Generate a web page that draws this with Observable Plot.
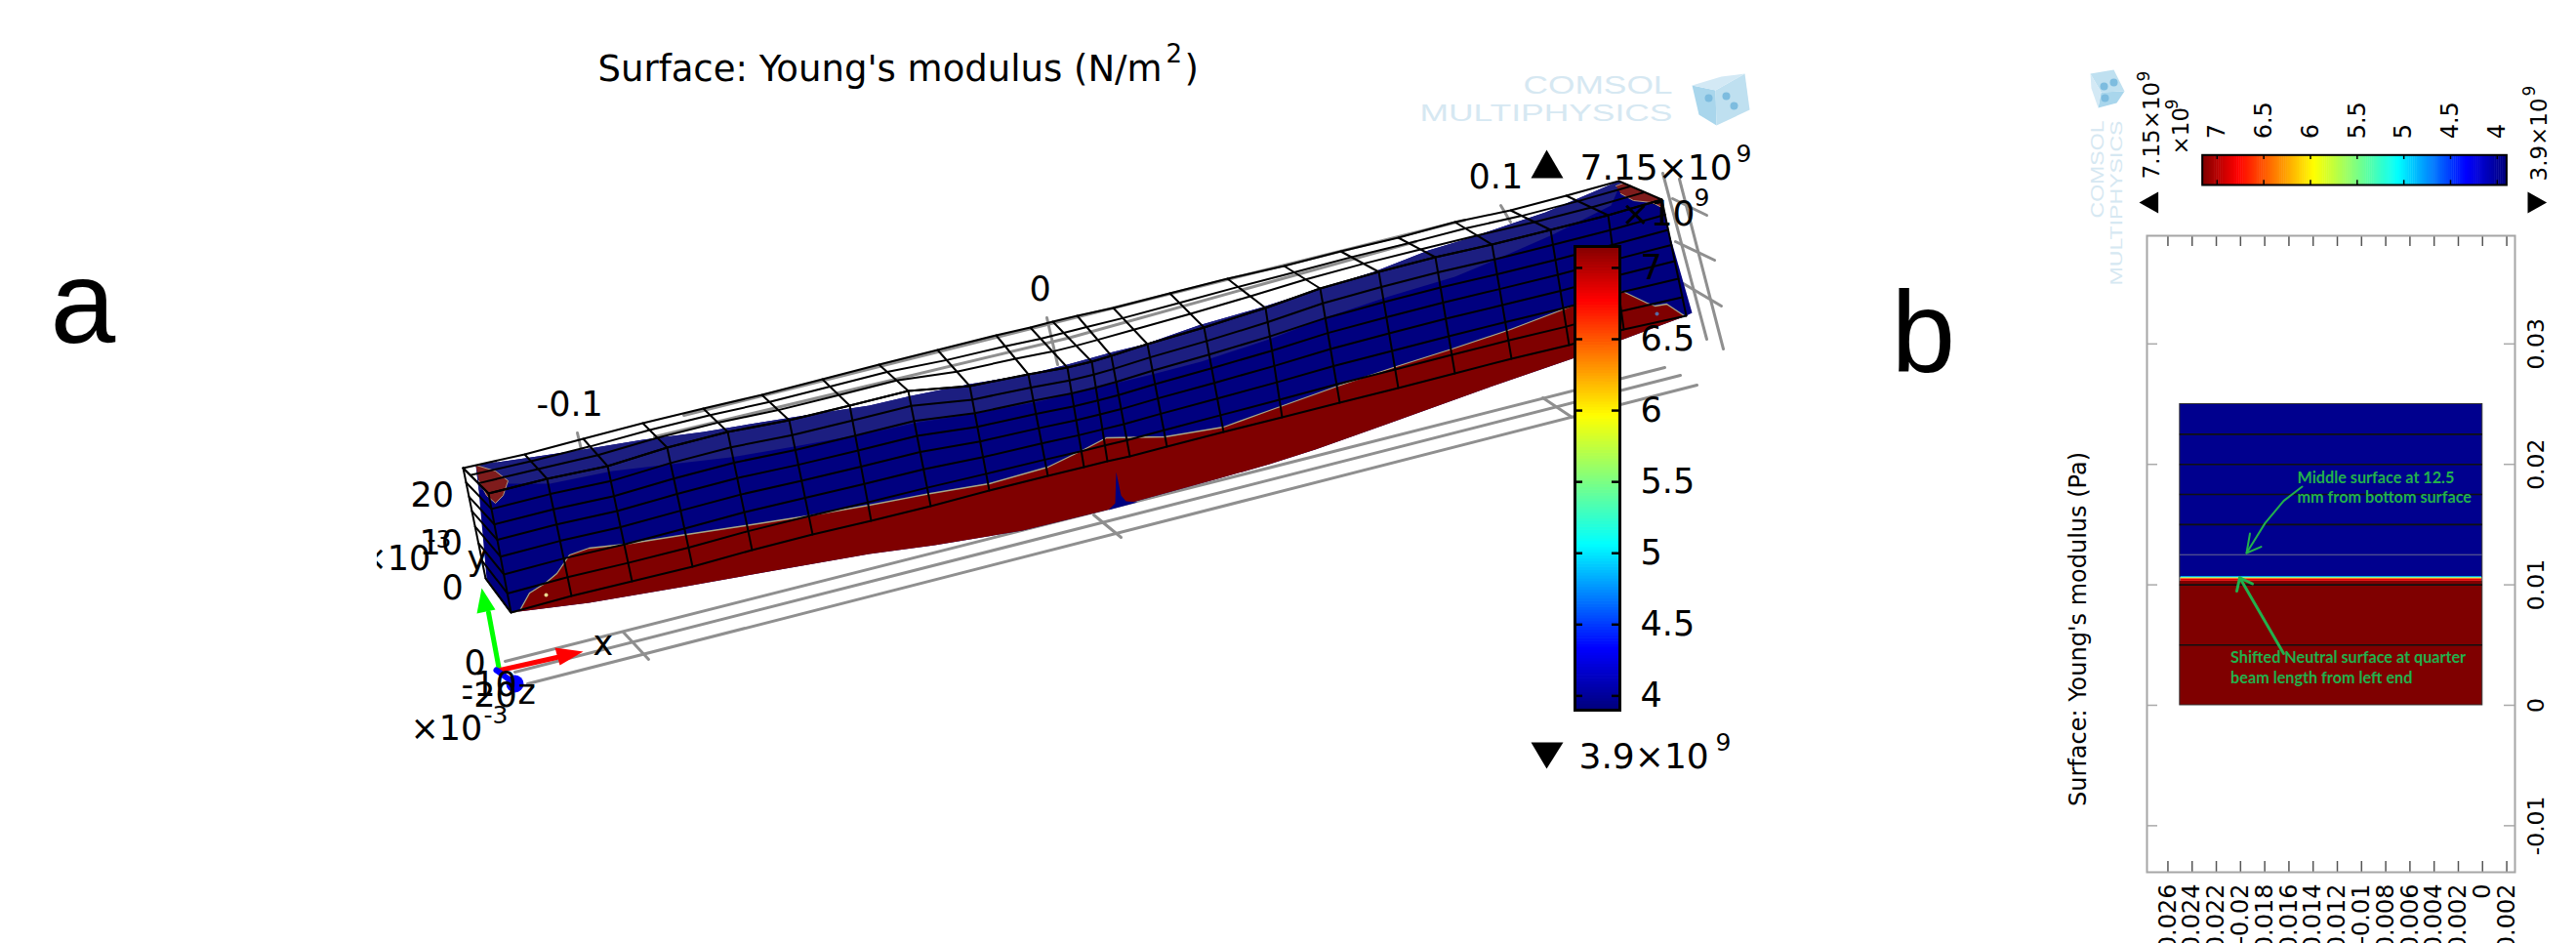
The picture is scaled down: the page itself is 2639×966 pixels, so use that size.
<!DOCTYPE html>
<html><head><meta charset="utf-8">
<script src="https://cdn.jsdelivr.net/npm/d3@7"></script>
<script src="https://cdn.jsdelivr.net/npm/@observablehq/plot@0.6"></script>
<style>
html,body{margin:0;padding:0;background:#fff;}
#stage{position:relative;width:2639px;height:966px;overflow:hidden;background:#fff;}
#stage svg{position:absolute;left:0;top:0;max-width:none;background:transparent;}
</style></head><body><div id="stage"></div>
<script>
const FONT = "DejaVu Sans";
const W = 2639, H = 966;

// ---- colour map (Young's modulus, GPa -> colour)
const modulusStops = [3.9, 4.32, 5.05, 5.95, 6.76, 7.15];
const modulusColours = ["#00007f", "#0000ff", "#00ffff", "#ffff00", "#ff0000", "#7f0000"];
const colourTicks = [7, 6.5, 6, 5.5, 5, 4.5, 4];
const colourTickLabels = ["7", "6.5", "6", "5.5", "5", "4.5", "4"];
const rampValues = d3.range(3.9, 7.15, 0.02);

// ---- panel a: outlines
const beamTopEdge = [[487,476],[537,469],[597,460],[658,450],[720,442],[780,432],[837,423],[890,415],[933,405],[993,393],[1053,383],[1093,373],[1140,360],[1173,352],[1227,333],[1290,315],[1353,295],[1407,278],[1463,256],[1503,244],[1550,228],[1583,217],[1658,185]];
const beamRightEnd = [[1702,204],[1708,233],[1733,320],[1727,323]];
const beamBottomEdge = [[1727,323],[1660,348],[1610,367],[1523,397],[1423,433],[1347,460],[1300,475],[1247,490],[1163,513],[1133,522],[1047,543],[957,558],[890,567],[787,585],[703,600],[603,617],[523,627]];
const beamLeftEdge = [[523,627],[498,592],[490,502],[487,476]];
const neutralEdge = [[526,627],[532,625],[542,607],[558,597],[570,587],[583,568],[603,561],[640,557],[703,547],[763,538],[827,528],[890,517],[953,505],[1013,495],[1073,478],[1110,460],[1133,448],[1193,447],[1253,437],[1300,420],[1370,395],[1430,375],[1487,357],[1547,337],[1610,313],[1662,298],[1687,310],[1695,313],[1707,311],[1725,323]];
const topFaceLower = [[490,502],[520,495],[563,495],[627,482],[687,475],[748,468],[813,457],[890,443],[940,432],[1000,423],[1067,410],[1130,395],[1180,383],[1230,370],[1300,347],[1357,325],[1423,303],[1490,283],[1533,265],[1590,240],[1650,210],[1660,187]];
const capLeft = [[487,476],[507,482],[520,492],[515,507],[507,515],[498,507],[490,492]];
const capRight = [[1655,190],[1663,187],[1700,203],[1704,213],[1692,207],[1673,205],[1660,198]];
const spike = [[1143,483],[1148,507],[1153,513],[1165,514],[1135,522],[1142,515]];
const specks = [[559,609,"#e8d890"],[1697,321,"#5a6aa0"]];

// mesh stations: back-top, front-top, front-bottom corner of each cross-section
const stationsBack = [[474,479],[537,465],[597,449],[658,433],[720,418],[780,404],[842,388],[900,373],[960,358],[1020,343],[1055,335],[1078,329],[1103,323],[1140,315],[1198,300],[1257,285],[1315,272],[1373,257],[1432,243],[1490,227],[1547,215],[1604,200],[1658,185]];
const stationsFront = [[500,505],[560,490],[622,477],[683,458],[745,442],[808,430],[870,415],[930,400],[993,395],[1053,383],[1093,376],[1118,370],[1138,364],[1175,352],[1233,335],[1296,315],[1352,295],[1412,278],[1470,263],[1528,250],[1588,235],[1647,220],[1702,204]];
const stationsBottom = [[523,627],[585,610],[647,595],[709,580],[770,563],[832,547],[892,533],[953,518],[1013,502],[1073,487],[1110,478],[1134,472],[1157,467],[1195,457],[1253,442],[1313,427],[1372,412],[1432,397],[1490,382],[1548,367],[1607,353],[1663,337],[1727,323]];
const leftBackBottom = [497,592];
const topFaceFractions = [0, 0.28, 0.6, 1];
const frontLayerFractions = [0, 0.13, 0.26, 0.39, 0.53, 0.68, 0.84, 1];

// grey axis box
const gridLines = [
  [[517,677],[1705,376]], [[527,688],[1721,384]], [[540,700],[1738,394]],
  [[638,647],[664,675]], [[1120,527],[1148,550]], [[1580,407],[1610,427]],
  [[670,447],[1097,345],[1450,247]], [[700,425],[1500,225]],
  [[591,443],[595,460]], [[1072,325],[1083,373]], [[1537,210],[1547,227]],
  [[1703,177],[1748,347]], [[1720,183],[1765,357]],
  [[1713,203],[1748,220]], [[1716,247],[1756,266]], [[1724,290],[1763,313]]
];

// triad
const greenShaft = [[511,686],[500,627]], greenHead = [[493,602],[488,628],[507,624]];
const redShaft = [[512,686],[570,673]], redHead = [[568,663],[597,667],[573,681]];
const blueShaft = [[508,686],[527,700]], blueBall = [[527,700]];

// watermark cubes: [left face, right face, top face]
const cubeA = [
  [[1733,87],[1757,92],[1758,128],[1740,117]],
  [[1757,92],[1787,75],[1792,112],[1758,128]],
  [[1733,87],[1763,78],[1787,75],[1757,92]]
];
const cubeB = [
  [[2149,110],[2152,94],[2176,93],[2168,105]],
  [[2152,94],[2141,75],[2165,71],[2176,93]],
  [[2149,110],[2142,90],[2141,75],[2152,94]]
];
const cubeSpots = [[1768,98],[1750,100],[1776,108],[2155,88],[2156,100],[2165,84]];

// ---- panel a: text
const titleRows = [["Surface: Young's modulus (N/m",612,82],[")",1213,82]];
const titleExp = [["2",1194,63]];
const axisLabelsA = [["-0.1",549,425],["0",1054,307],["0.1",1504,192],["20",420,518],["10",429,567],["0",452,613],["y",478,583],["0",475,690],["-10",472,712],["-20",472,723],["z",530,720],["x",607,670],["×10",420,757],["×10",367,583]];
const expLabelsA = [["-3",495,740],["-3",437,560]];
const barCaptionsA = [["7.15×10",1618,183],["×10",1660,230],["3.9×10",1617,786]];
const barExpA = [["9",1778,165],["9",1735,210],["9",1757,768]];
const triangleUpA = [[1584,153],[1568,182],[1601,182]];
const triangleDownA = [[1568,760],[1601,760],[1584,787]];
const panelLetters = [["a",51,350,120],["b",1937,380,118]];

// ---- panel b: beam section, metres
const xTicksB = [-0.026,-0.024,-0.022,-0.02,-0.018,-0.016,-0.014,-0.012,-0.01,-0.008,-0.006,-0.004,-0.002,0,0.002];
const yTicksB = [-0.01,0,0.01,0.02,0.03];
const meshLayersB = [0.0225,0.02,0.0175,0.015,0.01,0.005];
const middleSurfaceB = [0.0125];
const sectionLeft = -0.025, sectionRight = 0, sectionTop = 0.025, sectionBottom = 0;
const sectionValues = [[0.0106,0.025,3.95],[0,0.0103,7.15]];
const neutralBand = [[0.0106,0.01068,4.9],[0.01053,0.0106,5.6],[0.01047,0.01053,6.4],[0.0103,0.01047,6.85]];

// ---- panel b: annotations
const greenNotes = [["Middle surface at 12.5",2353,494],["mm from bottom surface",2353,514.5],["Shifted Neutral surface at quarter",2284.6,678.7],["beam length from left end",2284.6,699.6]];
const arrowMiddle = [[2358,498],[2339,512.6],[2320,535.4],[2301,566]], arrowMiddleHead = [[2304.5,546],[2301,566],[2316,559.6]];
const arrowNeutral = [[2339,669],[2294,591.3]], arrowNeutralHead = [[2291,605],[2294,591.3],[2307,597.5]];
const rotatedB = [["7.15×10",2211.7,183],["×10",2241.6,158],["3.9×10",2608,185]];
const rotatedExpB = [["9",2201,83],["9",2230.6,111.7],["9",2596.6,98]];
const triangleLeftB = [[2191,207],[2210.6,196],[2210.6,218]];
const triangleRightB = [[2589,196],[2589,218],[2608.6,207]];
const yTitleB = ["Surface: Young's modulus (Pa)"];

// ---- helpers
const px = {x: {domain:[0,W],range:[0,W]}, y: {domain:[0,H],range:[0,H]}, axis:null, width:W, height:H, margin:0, style:{background:"transparent"}};
const X = d => d[0], Y = d => d[1];
const poly = (pts, fill) => Plot.line(pts, {x:X, y:Y, fill, stroke:"none", curve:"linear"});
const path = (pts, stroke, strokeWidth, extra={}) => Plot.line(pts, {x:X, y:Y, stroke, strokeWidth, curve:"linear", ...extra});
const lerp = (a,b,t) => [a[0]+(b[0]-a[0])*t, a[1]+(b[1]-a[1])*t];
const label = (rows, size, extra={}) => Plot.text(rows, {x:d=>d[1], y:d=>d[2], text:d=>d[0], fontSize:size, fontFamily:FONT, fill:"#000", textAnchor:"start", lineAnchor:"bottom", ...extra});
const colour = {type:"linear", domain:modulusStops, range:modulusColours, interpolate:"rgb"};

// wire mesh lines
const meshMarks = [];
stationsBack.forEach((a,i) => {
  meshMarks.push(path([a, stationsFront[i], stationsBottom[i]], "#000", 2));
});
meshMarks.push(path([stationsBack[0], leftBackBottom, stationsBottom[0]], "#000", 2));
topFaceFractions.forEach(t => meshMarks.push(path(stationsBack.map((a,i)=>lerp(a,stationsFront[i],t)), "#000", 2)));
frontLayerFractions.forEach(t => {
  meshMarks.push(path([lerp(stationsBack[0],leftBackBottom,t), ...stationsFront.map((f,i)=>lerp(f,stationsBottom[i],t))], "#000", 2));
});

const stage = document.getElementById("stage");

// layer 1: the 3-D beam
stage.append(Plot.plot({...px, marks:[
  ...gridLines.map(l => path(l, "#8f8f8f", 3)),
  poly([...beamTopEdge, ...beamRightEnd, ...beamBottomEdge, ...beamLeftEdge], "#00007f"),
  poly([...beamTopEdge, ...topFaceLower.slice().reverse()], "#1c1e80"),
  poly([...neutralEdge, ...beamBottomEdge], "#7f0000"),
  path(neutralEdge, "#a8a888", 1.3),
  poly(spike, "#00007f"),
  poly(capLeft, "#7f1c1c"), poly(capRight, "#7f1c1c"),
  path(capLeft, "#b09a80", 1), path(capRight, "#b09a80", 1),
  Plot.dot(specks, {x:X, y:Y, r:2, fill:d=>d[2]}),
  ...meshMarks,
  path(greenShaft, "#00ff00", 5), poly(greenHead, "#00ff00"),
  path(redShaft, "#ff0000", 5), poly(redHead, "#ff0000"),
  path(blueShaft, "#0000ff", 6), Plot.dot(blueBall, {x:X, y:Y, r:9, fill:"#0000ff"}),
  label(axisLabelsA, 35),
  label(expLabelsA, 25),
  Plot.rect([0], {x1:0, x2:386, y1:540, y2:590, fill:"#fff"})
]}));

// layer 2: colour bar of panel a
stage.append(Plot.plot({
  width:W, height:H, marginLeft:1613, marginRight:W-1659, marginTop:252, marginBottom:H-727,
  x:{axis:null}, y:{domain:[3.9,7.15], axis:null}, color:colour, style:{background:"transparent"},
  marks:[
    Plot.rect(rampValues, {y1:d=>d, y2:d=>Math.min(7.15,d+0.025), fill:d=>d}),
    Plot.ruleY(colourTicks, {stroke:"#000", strokeWidth:2.5, insetRight:38}),
    Plot.ruleY(colourTicks, {stroke:"#000", strokeWidth:2.5, insetLeft:38}),
    Plot.frame({stroke:"#000", strokeWidth:3}),
    Plot.text(colourTicks, {frameAnchor:"right", y:d=>d, text:(d,i)=>colourTickLabels[i], dx:21, textAnchor:"start", fontSize:35, fontFamily:FONT, fill:"#000"})
  ]}));

// layer 3: panel b section
const bFrame = {left:2199, right:2576, top:241, bottom:893};
stage.append(Plot.plot({
  width:W, height:H, marginLeft:bFrame.left, marginRight:W-bFrame.right, marginTop:bFrame.top, marginBottom:H-bFrame.bottom,
  x:{domain:[-0.02773,0.00268], axis:null}, y:{domain:[-0.01386,0.03898], axis:null}, color:colour, style:{background:"transparent"},
  marks:[
    Plot.rect(sectionValues, {x1:sectionLeft, x2:sectionRight, y1:d=>d[0], y2:d=>d[1], fill:d=>d[2]}),
    Plot.rect(neutralBand, {x1:sectionLeft+0.00005, x2:sectionRight-0.00005, y1:d=>d[0], y2:d=>d[1], fill:d=>d[2]}),
    Plot.rect([0], {x1:sectionLeft, x2:sectionRight, y1:sectionBottom, y2:sectionTop, stroke:"#333", strokeWidth:1, fill:"none"}),
    Plot.ruleY(meshLayersB, {x1:sectionLeft, x2:sectionRight, stroke:"#111", strokeWidth:1.6}),
    Plot.ruleY(middleSurfaceB, {x1:sectionLeft, x2:sectionRight, stroke:"#6a6a90", strokeWidth:1}),
    Plot.ruleX(xTicksB, {stroke:"#555", strokeWidth:1.5, insetBottom:bFrame.bottom-bFrame.top-11}),
    Plot.ruleX(xTicksB, {stroke:"#555", strokeWidth:1.5, insetTop:bFrame.bottom-bFrame.top-11}),
    Plot.ruleY(yTicksB, {stroke:"#aaa", strokeWidth:1.5, insetRight:bFrame.right-bFrame.left-11}),
    Plot.ruleY(yTicksB, {stroke:"#aaa", strokeWidth:1.5, insetLeft:bFrame.right-bFrame.left-11}),
    Plot.frame({stroke:"#a6a6a6", strokeWidth:2}),
    Plot.text(xTicksB, {x:d=>d, frameAnchor:"bottom", text:d=>String(d), dy:12, rotate:-90, textAnchor:"end", lineAnchor:"middle", fontSize:24, fontFamily:FONT, fill:"#000"}),
    Plot.text(yTicksB, {y:d=>d, frameAnchor:"right", text:d=>String(d), dx:22, rotate:-90, textAnchor:"middle", lineAnchor:"middle", fontSize:23.5, fontFamily:FONT, fill:"#000"})
  ]}));

// layer 4: colour bar of panel b
stage.append(Plot.plot({
  width:W, height:H, marginLeft:2255.7, marginRight:W-2567.4, marginTop:158.3, marginBottom:H-189,
  x:{domain:[7.158,3.9], axis:null}, y:{axis:null}, color:colour, style:{background:"transparent"},
  marks:[
    Plot.rect(rampValues, {x1:d=>d, x2:d=>Math.min(7.158,d+0.025), fill:d=>d}),
    Plot.ruleX(colourTicks, {stroke:"#000", strokeWidth:1.5, insetBottom:26}),
    Plot.ruleX(colourTicks, {stroke:"#000", strokeWidth:1.5, insetTop:26}),
    Plot.frame({stroke:"#000", strokeWidth:2}),
    Plot.text(colourTicks, {x:d=>d, frameAnchor:"top", text:(d,i)=>colourTickLabels[i], dy:-16.5, rotate:-90, textAnchor:"start", lineAnchor:"middle", fontSize:24, fontFamily:FONT, fill:"#000"})
  ]}));

// layer 5: annotations and text
const overlay = Plot.plot({...px, marks:[
  label(titleRows, 37), label(titleExp, 26),
  label(panelLetters, d=>d[3], {fontFamily:"Liberation Sans"}),
  label(barCaptionsA, 36), label(barExpA, 25),
  poly(triangleUpA,"#000"), poly(triangleDownA,"#000"),
  ...cubeA.map((f,i)=>poly(f,["#a9d6ec","#bfe0f0","#d3e9f5"][i])),
  ...cubeB.map((f,i)=>poly(f,["#a9d6ec","#bfe0f0","#d3e9f5"][i])),
  Plot.dot(cubeSpots, {x:X, y:Y, r:4, fill:"#7dbcdf"}),
  label([["COMSOL",1560,95]], 26, {fill:"#d6e8f2", fontFamily:"Liberation Sans"}),
  label([["MULTIPHYSICS",1454,123]], 24, {fill:"#d6e8f2", fontFamily:"Liberation Sans"}),
  label([["COMSOL",2154,223]], 18, {fill:"#d6e8f2", fontFamily:"Liberation Sans", rotate:-90}),
  label([["MULTIPHYSICS",2173,292]], 17, {fill:"#d6e8f2", fontFamily:"Liberation Sans", rotate:-90}),
  label(rotatedB, 23, {rotate:-90}), label(rotatedExpB, 17, {rotate:-90}),
  poly(triangleLeftB,"#000"), poly(triangleRightB,"#000"),
  Plot.text(yTitleB, {x:2136, y:644, text:d=>d, rotate:-90, fontSize:24, fontFamily:FONT, fill:"#000", lineAnchor:"bottom"}),
  path(arrowMiddle,"#22b14c",2), path(arrowMiddleHead,"#22b14c",2),
  path(arrowNeutral,"#22b14c",3), path(arrowNeutralHead,"#22b14c",3),
  label(greenNotes, 16.2, {fill:"#22b14c", fontFamily:"Lato", fontWeight:"bold"})
]});
stage.append(overlay);
// the watermark wordmark is stretched to its measured run
const stretch = {"COMSOL":153, "MULTIPHYSICS":259};
d3.select(overlay).selectAll("text").each(function(){
  const t = this.textContent, pieces = d3.select(this);
  if (stretch[t]) {
    const rotated = (this.getAttribute("transform")||"").includes("rotate");
    const k = rotated ? (t==="COMSOL"?100:169) : stretch[t];
    pieces.attr("textLength", k).attr("lengthAdjust","spacingAndGlyphs");
  }
});
</script></body></html>
